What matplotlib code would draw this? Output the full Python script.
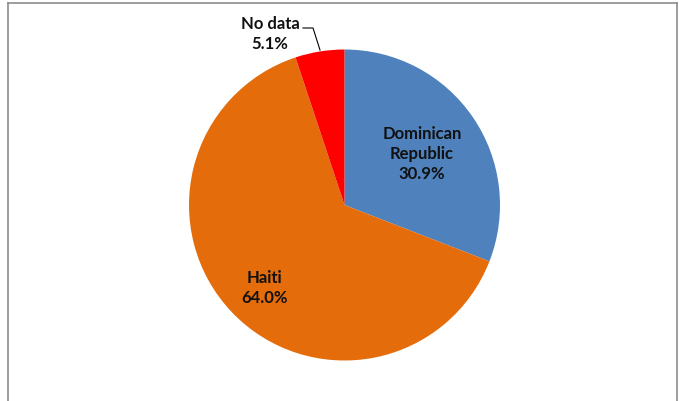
import matplotlib
matplotlib.use("Agg")
import matplotlib.pyplot as plt

categories = ["Dominican\nRepublic", "Haiti", "No data"]
values = [30.9, 64.0, 5.1]
colors = ["#4F81BD", "#E46C0A", "#FF0000"]

W, H = 679, 402
fig = plt.figure(figsize=(W/100, H/100), dpi=100)
fig.patch.set_facecolor("white")

# frame (grey border, top/left/right)
fig.add_artist(plt.Line2D([8/W, 8/W], [0, 1 - 4/H], color="#8c8c8c", lw=1.2, transform=fig.transFigure))
fig.add_artist(plt.Line2D([8/W, 677/W], [1 - 4/H, 1 - 4/H], color="#8c8c8c", lw=1.2, transform=fig.transFigure))
fig.add_artist(plt.Line2D([677/W, 677/W], [0, 1 - 4/H], color="#8c8c8c", lw=1.2, transform=fig.transFigure))

cx, cy, r = 344.5, 206, 155.5
ax = fig.add_axes([(cx - r)/W, 1 - (cy + r)/H, 2*r/W, 2*r/H])
wedges, _ = ax.pie(values, colors=colors, startangle=90, counterclock=False,
                   wedgeprops=dict(linewidth=0))
ax.set_xlim(-1, 1); ax.set_ylim(-1, 1)
ax.set_aspect("equal")
ax.axis("off")

font = dict(family=["Lato", "DejaVu Sans"], fontweight="bold", fontsize=12, color="#111111",
            ha="center", va="center", linespacing=1.3)

def fig_text(x, y, s):
    fig.text(x/W, 1 - y/H, s, **font)

fig_text(422, 154, f"{categories[0]}\n{values[0]:.1f}%")
fig_text(264, 288, f"{categories[1]}\n{values[1]:.1f}%")
fig_text(270, 34, f"{categories[2]}\n{values[2]:.1f}%")

# leader line for No data
xs = [303, 313, 320]
ys = [29, 29, 51]
fig.add_artist(plt.Line2D([x/W for x in xs], [1 - y/H for y in ys], color="black", lw=0.8,
                          transform=fig.transFigure))

fig.savefig("out.png", dpi=100, facecolor="white")
